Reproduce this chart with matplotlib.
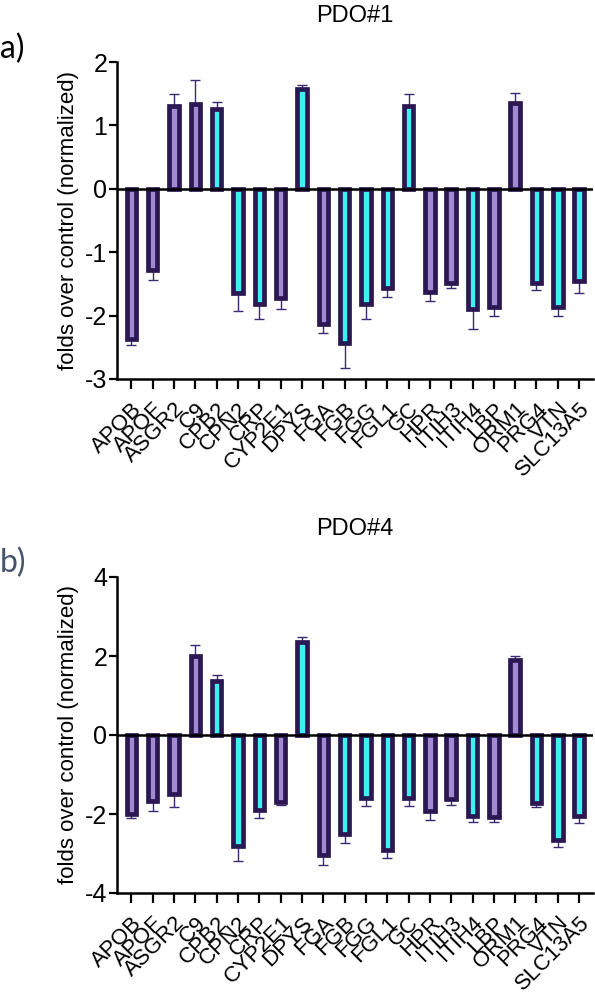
import numpy as np
import matplotlib
matplotlib.use("Agg")
import matplotlib.pyplot as plt

plt.rcParams["font.family"] = ["Liberation Sans", "DejaVu Sans"]
plt.rcParams["axes.unicode_minus"] = False

genes = ["APOB", "APOF", "ASGR2", "C9", "CPB2", "CPN2", "CRP", "CYP2E1", "DPYS",
         "FGA", "FGB", "FGG", "FGL1", "GC", "HPR", "ITIH3", "ITIH4", "LBP",
         "ORM1", "PRG4", "VTN", "SLC13A5"]
# "p" = purple bar, "c" = cyan bar
groups = ["p", "p", "p", "p", "c", "c", "c", "p", "c",
          "p", "c", "c", "c", "c", "p", "p", "c", "p",
          "p", "c", "c", "c"]

pdo1_vals = [-2.37, -1.28, 1.31, 1.33, 1.26, -1.65, -1.81, -1.72, 1.57,
             -2.13, -2.43, -1.81, -1.56, 1.30, -1.63, -1.48, -1.89, -1.86,
             1.36, -1.49, -1.86, -1.46]
pdo1_err = [0.10, 0.16, 0.19, 0.38, 0.11, 0.28, 0.24, 0.18, 0.06,
            0.14, 0.40, 0.24, 0.15, 0.20, 0.14, 0.08, 0.32, 0.14,
            0.15, 0.10, 0.15, 0.19]

pdo4_vals = [-2.00, -1.67, -1.50, 2.00, 1.36, -2.80, -1.90, -1.69, 2.35,
             -3.03, -2.51, -1.59, -2.90, -1.59, -1.92, -1.62, -2.05, -2.08,
             1.89, -1.71, -2.65, -2.06]
pdo4_err = [0.11, 0.26, 0.32, 0.29, 0.15, 0.40, 0.19, 0.09, 0.13,
            0.26, 0.22, 0.20, 0.22, 0.20, 0.24, 0.16, 0.15, 0.13,
            0.11, 0.12, 0.18, 0.18]

purple = "#A08BD2"
cyan = "#3FF0F0"
edge = "#2B1852"
errc = "#3B2A70"
colors = [purple if g == "p" else cyan for g in groups]

W, H = 595, 993
fig = plt.figure(figsize=(W / 100, H / 100), dpi=100)


def panel(rect, vals, errs, ylim, yticks, title, title_y, letter, letter_y, letter_color):
    ax = fig.add_axes(rect)
    x = np.arange(len(genes))
    vals = np.array(vals)
    errs = np.array(errs)
    lower = np.where(vals < 0, errs, 0)
    upper = np.where(vals > 0, errs, 0)
    ax.errorbar(x, vals, yerr=[lower, upper], fmt="none", ecolor=errc,
                elinewidth=1.0, capsize=3.5, capthick=1.0, zorder=1)
    ax.bar(x, vals, width=0.44, color=colors, edgecolor=edge, linewidth=3.4, zorder=2)
    ax.axhline(0, color="black", lw=1.8, zorder=3)
    ax.set_xlim(-0.67, len(genes) - 0.35)
    ax.set_ylim(*ylim)
    ax.set_yticks(yticks)
    ax.set_xticks(x)
    ax.set_xticklabels(genes, rotation=45, ha="right", rotation_mode="anchor", fontsize=16)
    ax.tick_params(axis="x", length=7, width=1.6, pad=7)
    ax.tick_params(axis="y", length=6, width=1.6, pad=1, labelsize=18)
    for s in ["top", "right"]:
        ax.spines[s].set_visible(False)
    for s in ["left", "bottom"]:
        ax.spines[s].set_linewidth(1.8)
    ax.set_ylabel("folds over control (normalized)", fontsize=16, labelpad=4)
    cx = rect[0] + rect[2] / 2
    fig.text(cx, 1 - title_y / H, title, ha="center", va="baseline", fontsize=17)
    fig.text(0.0, 1 - letter_y / H, letter, ha="left", va="baseline", fontsize=23,
             color=letter_color, family=["Lato", "DejaVu Sans"])
    return ax


panel([117 / W, 1 - 379 / H, 476 / W, 317 / H], pdo1_vals, pdo1_err, (-3, 2),
      [-3, -2, -1, 0, 1, 2], "PDO#1", 22, "a)", 58, "black")
panel([117 / W, 1 - 893 / H, 476 / W, 316 / H], pdo4_vals, pdo4_err, (-4, 4),
      [-4, -2, 0, 2, 4], "PDO#4", 535, "b)", 572, "#44546A")

fig.savefig("out.png", dpi=100)
